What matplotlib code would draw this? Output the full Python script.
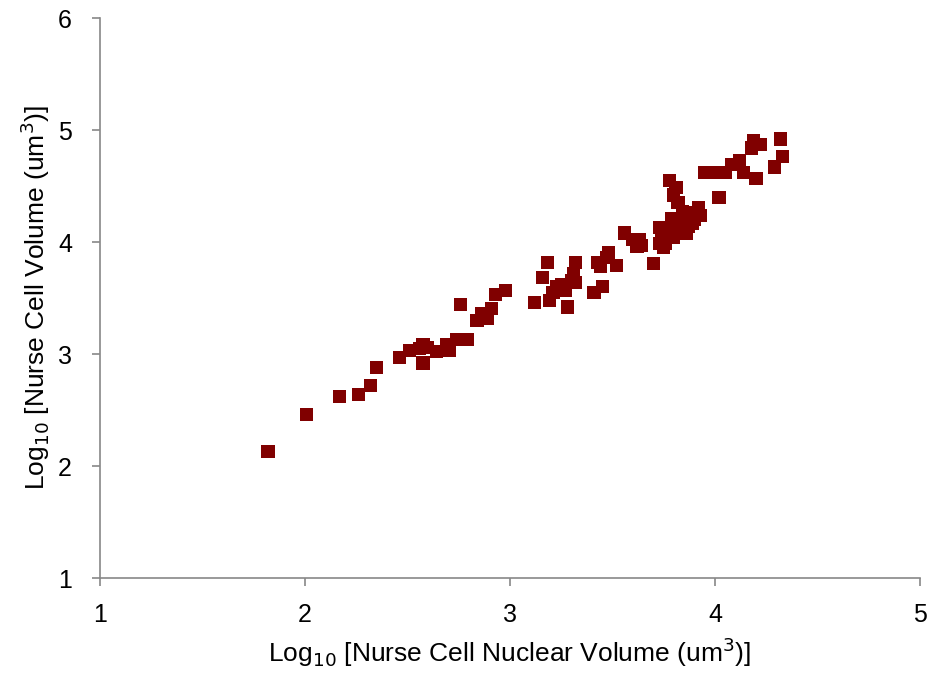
import matplotlib
matplotlib.use("Agg")
import matplotlib.pyplot as plt

plt.rcParams['font.family'] = ['Liberation Sans', 'DejaVu Sans']

nuclear_log = [1.82, 2.01, 2.17, 2.26, 2.32, 2.35,
               2.46, 2.51, 2.576, 2.576, 2.644, 2.707, 2.74, 2.795, 2.76, 2.84, 2.89, 2.91, 2.93, 2.98,
               2.56, 2.60, 2.69, 2.86,
               3.185, 3.16, 3.12, 3.195, 3.23, 3.28, 3.27, 3.32, 3.31, 3.32, 3.41, 3.45, 3.43, 3.48,
               3.21, 3.25, 3.30, 3.44, 3.47,
               3.52, 3.56, 3.60, 3.64, 3.62, 3.70, 3.63,
               3.78, 3.81, 3.80, 3.82, 3.84, 3.92, 3.93, 3.89, 3.73, 3.78, 3.84, 3.73, 3.80, 3.75, 3.86,
               3.74, 3.77, 3.80, 3.83, 3.87, 3.90, 3.76, 3.79, 3.85, 3.88,
               4.02, 3.95, 4.01, 4.05, 4.08, 4.12, 4.14, 4.20, 4.19, 4.18, 4.22, 4.32, 4.33, 4.29]
cell_log = [2.13, 2.46, 2.62, 2.64, 2.72, 2.88,
            2.97, 3.03, 3.08, 2.92, 3.02, 3.03, 3.13, 3.13, 3.44, 3.30, 3.32, 3.41, 3.53, 3.57,
            3.05, 3.06, 3.08, 3.36,
            3.82, 3.68, 3.46, 3.48, 3.60, 3.42, 3.57, 3.82, 3.72, 3.64, 3.55, 3.60, 3.82, 3.91,
            3.55, 3.62, 3.66, 3.78, 3.86,
            3.79, 4.08, 4.02, 3.97, 3.96, 3.81, 4.02,
            4.55, 4.49, 4.42, 4.35, 4.27, 4.31, 4.24, 4.17, 4.13, 4.13, 4.11, 3.99, 4.04, 3.95, 4.08,
            4.05, 4.09, 4.17, 4.18, 4.14, 4.20, 3.99, 4.21, 4.22, 4.26,
            4.40, 4.62, 4.62, 4.62, 4.69, 4.73, 4.62, 4.57, 4.91, 4.84, 4.87, 4.92, 4.76, 4.67]

x_ticks = [1, 2, 3, 4, 5]
y_ticks = [1, 2, 3, 4, 5, 6]

fig = plt.figure(figsize=(9.33, 6.75), dpi=100)
ax = fig.add_axes([0.107, 0.1437, 0.879, 0.8296])

ax.scatter(nuclear_log, cell_log, marker='s', s=90, color='#800000',
           edgecolors='none', zorder=3)

ax.set_xlim(1, 5)
ax.set_ylim(1, 6)
ax.set_xticks(x_ticks)
ax.set_yticks(y_ticks)
ax.set_xticklabels([str(t) for t in x_ticks])
ax.set_yticklabels([str(t) for t in y_ticks])

for s in ['top', 'right']:
    ax.spines[s].set_visible(False)
for s in ['left', 'bottom']:
    ax.spines[s].set_color('#888888')
    ax.spines[s].set_linewidth(1.2)
ax.tick_params(axis='both', direction='out', length=6, width=1.2, color='#888888',
               labelsize=18)
ax.tick_params(axis='y', pad=14)
ax.tick_params(axis='x', pad=12)

ax.set_xlabel(r'Log$_{10}$ [Nurse Cell Nuclear Volume (um$^{3}$)]', fontsize=19, labelpad=6)
ax.set_ylabel(r'Log$_{10}$ [Nurse Cell Volume (um$^{3}$)]', fontsize=19, labelpad=4)

fig.savefig('out.png', dpi=100, facecolor='white')
